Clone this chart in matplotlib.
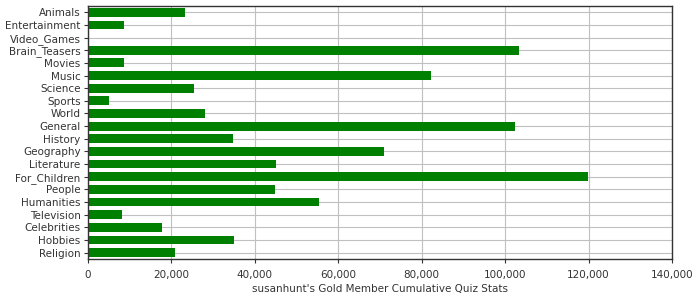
import matplotlib
matplotlib.use("Agg")
import matplotlib.pyplot as plt
from matplotlib.ticker import FuncFormatter

# quiz categories, top to bottom
categories = ["Animals", "Entertainment", "Video_Games", "Brain_Teasers", "Movies",
              "Music", "Science", "Sports", "World", "General", "History",
              "Geography", "Literature", "For_Children", "People", "Humanities",
              "Television", "Celebrities", "Hobbies", "Religion"]
# cumulative points per category
points = [23300, 8700, 0, 103300, 8700, 82200, 25500, 5100, 28100, 102500,
          34800, 70900, 45100, 119800, 44900, 55400, 8300, 17800, 35100, 20900]

fig = plt.figure(figsize=(7, 3), dpi=100)
ax = fig.add_axes([0.125, 0.137, 0.835, 0.843])

pos = list(range(len(categories)))
ax.barh(pos, points, height=0.7, color="#008000", zorder=2)

ax.set_xlim(0, 140000)
ax.set_ylim(len(categories) - 0.5, -0.5)
ax.set_yticks(pos)
ax.set_yticklabels(categories)
ax.set_xticks(range(0, 140001, 20000))
ax.xaxis.set_major_formatter(FuncFormatter(lambda v, p: f"{int(v):,}"))

ax.grid(True, color="#c0c0c0", linewidth=0.8, zorder=0)
ax.set_axisbelow(True)
for s in ax.spines.values():
    s.set_color("#333333")
    s.set_linewidth(1.0)
ax.tick_params(axis="both", colors="#333333", labelsize=7.5, length=3, pad=2)
ax.tick_params(axis="x", pad=5)

ax.set_xlabel("susanhunt's Gold Member Cumulative Quiz Stats", fontsize=7.5,
              color="#333333", labelpad=3)

fig.savefig("out.png", dpi=100)
